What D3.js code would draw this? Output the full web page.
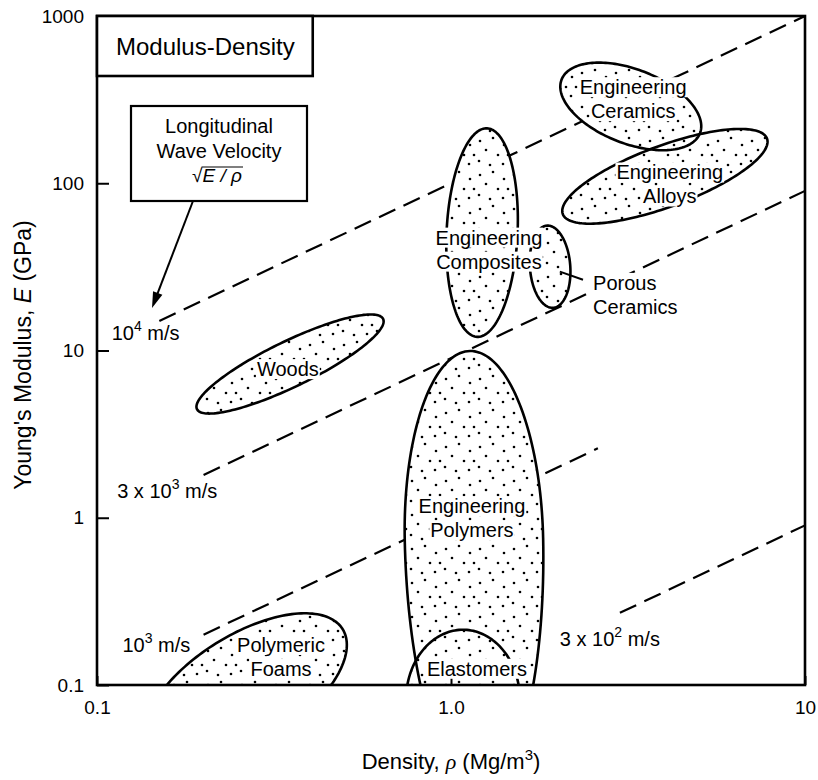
<!DOCTYPE html>
<html><head><meta charset="utf-8">
<script src="https://cdn.jsdelivr.net/npm/d3@7"></script>
<style>
body{margin:0;background:#fff}
text{font-family:"Liberation Sans",Arial,Helvetica,sans-serif;fill:#000}
</style>
</head><body>
<svg id="chart" width="818" height="780"></svg>
<script>
// ---------------- data ----------------
const xTickValues = [0.1, 1, 10];
const xTickLabels = ["0.1", "1.0", "10"];
const yTickValues = [0.1, 1, 10, 100, 1000];
const yTickLabels = ["0.1", "1", "10", "100", "1000"];

// guide lines of constant longitudinal wave velocity  v = sqrt(E/rho)
const velocities = [10000, 3000, 1000, 300];          // m/s
const velocityRhoStart = [0.15, 0.2, 0.2, 3.0];       // Mg/m^3
const velocityRhoEnd = [10, 10, 2.6, 10];
const velocityMantissa = ["", "3 x ", "", "3 x "];
const velocityExponent = ["4", "3", "3", "2"];
const velocityLabelRho = [0.110, 0.114, 0.118, 2.03];
const velocityLabelE = [11.6, 1.32, 0.158, 0.171];

// material property envelopes (ellipses in log-log space)
const regionNames = ["Woods", "Engineering Ceramics", "Engineering Alloys", "Engineering Composites",
  "Porous Ceramics", "Engineering Polymers", "Elastomers", "Polymeric Foams"];
const regionCenterRho = [0.351, 3.22, 4.02, 1.224, 1.905, 1.161, 1.081, 0.262];
const regionCenterE   = [8.30, 288, 110, 50.7, 31.7, 0.741, 0.0813, 0.0933];
const regionTipRho    = [0.643, 5.05, 7.81, 1.264, 1.867, 1.131, 1.081, 0.494];
const regionTipE      = [15.45, 199, 185, 213, 55.8, 9.93, 0.214, 0.216];
const regionWidthRatio = [0.22, 0.50, 0.28, 0.34, 0.49, 0.367, 0.81, 0.478];
const regionTailRatio  = [1, 1, 1, 1, 1, 1.33, 1, 1];

const labelLines = [["Woods"], ["Engineering", "Ceramics"], ["Engineering", "Alloys"],
  ["Engineering", "Composites"], ["Porous", "Ceramics"], ["Engineering", "Polymers"],
  ["Elastomers"], ["Polymeric", "Foams"]];
const labelRho = [0.346, 3.27, 4.15, 1.28, 2.52, 1.146, 1.184, 0.331];
const labelE   = [7.74, 318, 98.3, 40.1, 21.5, 0.99, 0.125, 0.147];
const labelAnchor = ["middle", "middle", "middle", "middle", "start", "middle", "middle", "middle"];
const porousLeaderRho = [2.03, 2.36];
const porousLeaderE = [29.6, 26.5];

// ---------------- layout ----------------
const svg = d3.select("#chart");
const L = 97, R = 805, T = 16, B = 685;
const x = d3.scaleLog().domain([0.1, 10]).range([L, R]);
const y = d3.scaleLog().domain([0.1, 1000]).range([B, T]);
const FS = 20;
const SANS = '"Liberation Sans",Arial,Helvetica,sans-serif';

const defs = svg.append("defs");
defs.append("clipPath").attr("id", "plotclip").append("rect")
  .attr("x", L).attr("y", T).attr("width", R - L).attr("height", B - T);
const pat = defs.append("pattern").attr("id", "stipple").attr("patternUnits", "userSpaceOnUse")
  .attr("width", 34).attr("height", 34);
[[4,5],[17,2],[28,9],[10,14],[22,19],[3,25],[14,29],[27,28],[32,19]].forEach(p => {
  pat.append("circle").attr("cx", p[0]).attr("cy", p[1]).attr("r", 1.3).attr("fill", "#000");
});

const plot = svg.append("g").attr("clip-path", "url(#plotclip)");

// guide lines
const gl = d3.line().x(d => x(d[0])).y(d => y(d[1]));
velocities.forEach((v, i) => {
  const k = (v / 1000) * (v / 1000);
  plot.append("path")
    .attr("d", gl([[velocityRhoStart[i], velocityRhoStart[i] * k], [velocityRhoEnd[i], velocityRhoEnd[i] * k]]))
    .attr("fill", "none").attr("stroke", "#000").attr("stroke-width", 2.2)
    .attr("stroke-dasharray", "18,9");
});

// region shapes
function regionPath(i) {
  const cx = x(regionCenterRho[i]), cy = y(regionCenterE[i]);
  const tx = x(regionTipRho[i]), ty = y(regionTipE[i]);
  const a = Math.hypot(tx - cx, ty - cy), ang = Math.atan2(ty - cy, tx - cx);
  const b = a * regionWidthRatio[i], tail = regionTailRatio[i];
  const pts = d3.range(0, 180).map(j => {
    const t = j / 180 * 2 * Math.PI;
    const lx = a * Math.cos(t) * (Math.cos(t) < 0 ? tail : 1), ly = b * Math.sin(t);
    return [cx + lx * Math.cos(ang) - ly * Math.sin(ang), cy + lx * Math.sin(ang) + ly * Math.cos(ang)];
  });
  return d3.line().curve(d3.curveLinearClosed)(pts);
}
regionNames.forEach((n, i) => {
  plot.append("path").attr("d", regionPath(i)).attr("fill", "#fff");
  plot.append("path").attr("d", regionPath(i)).attr("fill", "url(#stipple)");
});
regionNames.forEach((n, i) => {
  plot.append("path").attr("d", regionPath(i)).attr("fill", "none")
    .attr("stroke", "#000").attr("stroke-width", 2.6);
});

// axes
const xAxis = d3.axisBottom(x).tickValues(xTickValues).tickFormat((d, i) => xTickLabels[i])
  .tickSizeInner(-9).tickSizeOuter(0).tickPadding(16);
const yAxis = d3.axisLeft(y).tickValues(yTickValues).tickFormat((d, i) => yTickLabels[i])
  .tickSizeInner(-12).tickSizeOuter(0).tickPadding(13);
const gx = svg.append("g").attr("transform", `translate(0,${B})`).call(xAxis);
const gy = svg.append("g").attr("transform", `translate(${L},0)`).call(yAxis);
[gx, gy].forEach(g => {
  g.select(".domain").remove();
  g.selectAll("line").attr("stroke", "#000").attr("stroke-width", 2);
  g.selectAll("text").attr("font-size", 19).attr("font-family", SANS).attr("fill", "#000");
});

svg.append("rect").attr("x", L).attr("y", T).attr("width", R - L).attr("height", B - T)
  .attr("fill", "none").attr("stroke", "#000").attr("stroke-width", 2.6);

// helper: white background behind text (inserted into the same group, just before the text)
function backed(g, t, pad) {
  const bb = t.node().getBBox();
  g.insert("rect", () => t.node())
    .attr("x", bb.x - pad).attr("y", bb.y - pad + 2)
    .attr("width", bb.width + 2 * pad).attr("height", bb.height + 2 * pad - 4)
    .attr("fill", "#fff");
}

// region labels
const lineH = 24;
labelLines.forEach((lines, i) => {
  const g = svg.append("g");
  const cx = x(labelRho[i]), cy = y(labelE[i]);
  lines.forEach((s, j) => {
    const t = g.append("text").attr("x", cx).attr("y", cy + (j - (lines.length - 1) / 2) * lineH)
      .attr("dy", "0.35em").attr("text-anchor", labelAnchor[i]).attr("font-size", FS).text(s);
    backed(g, t, 1);
  });
});
svg.append("line").attr("x1", x(porousLeaderRho[0])).attr("y1", y(porousLeaderE[0]))
  .attr("x2", x(porousLeaderRho[1])).attr("y2", y(porousLeaderE[1]))
  .attr("stroke", "#000").attr("stroke-width", 2);

// velocity labels
velocities.forEach((v, i) => {
  const t = svg.append("text").attr("x", x(velocityLabelRho[i])).attr("y", y(velocityLabelE[i]))
    .attr("font-size", FS);
  t.append("tspan").text(velocityMantissa[i] + "10");
  t.append("tspan").attr("dy", -9).attr("font-size", 14).text(velocityExponent[i]);
  t.append("tspan").attr("dy", 9).text(" m/s");
});

// title box
const tg = svg.append("g");
const tbox = tg.append("rect");
const title = tg.append("text").attr("x", 116).attr("y", 55).attr("font-size", 24).text("Modulus-Density");
const tw = title.node().getComputedTextLength();
tbox.attr("x", L).attr("y", T).attr("width", 116 - L + tw + 18).attr("height", 76 - T)
  .attr("fill", "#fff").attr("stroke", "#000").attr("stroke-width", 2.6);

// Longitudinal wave velocity box
const bx = 131, by = 106, bh = 95, bcx = 219;
const lg = svg.append("g");
const lbox = lg.append("rect");
const t1 = lg.append("text").attr("x", bcx).attr("y", 133).attr("text-anchor", "middle").attr("font-size", FS).text("Longitudinal");
const t2 = lg.append("text").attr("x", bcx).attr("y", 158).attr("text-anchor", "middle").attr("font-size", FS).text("Wave Velocity");
lbox.attr("x", bx).attr("y", by).attr("width", 2 * (bcx - bx)).attr("height", bh)
  .attr("fill", "#fff").attr("stroke", "#000").attr("stroke-width", 2.2);
const t3 = lg.append("text").attr("x", bcx - 2).attr("y", 182).attr("text-anchor", "middle")
  .attr("font-size", 19).attr("font-family", '"Liberation Serif","Times New Roman",serif');
t3.append("tspan").text("\u221A");
const t3b = t3.append("tspan").attr("font-style", "italic").text("E / \u03C1");
const sb = t3b.node().getBBox();
lg.append("line").attr("x1", sb.x - 1).attr("x2", sb.x + sb.width + 1)
  .attr("y1", sb.y + 2).attr("y2", sb.y + 2).attr("stroke", "#000").attr("stroke-width", 1.2);

// arrow
const ax1 = 193, ay1 = by + bh, ax2 = 152, ay2 = 308;
const aang = Math.atan2(ay2 - ay1, ax2 - ax1);
svg.append("line").attr("x1", ax1).attr("y1", ay1).attr("x2", ax2 - 10 * Math.cos(aang)).attr("y2", ay2 - 10 * Math.sin(aang))
  .attr("stroke", "#000").attr("stroke-width", 2);
const ah = 16, aw = 5;
svg.append("path").attr("d", `M${ax2},${ay2} L${ax2 - ah * Math.cos(aang) + aw * Math.sin(aang)},${ay2 - ah * Math.sin(aang) - aw * Math.cos(aang)} L${ax2 - ah * Math.cos(aang) - aw * Math.sin(aang)},${ay2 - ah * Math.sin(aang) + aw * Math.cos(aang)} Z`)
  .attr("fill", "#000");

// axis titles
const xt = svg.append("text").attr("x", (L + R) / 2).attr("y", 769).attr("text-anchor", "middle").attr("font-size", 22);
xt.append("tspan").text("Density, ");
xt.append("tspan").attr("font-style", "italic").attr("font-family", '"Liberation Serif",serif').text("\u03C1");
xt.append("tspan").text(" (Mg/m");
xt.append("tspan").attr("dy", -9).attr("font-size", 15).text("3");
xt.append("tspan").attr("dy", 9).text(")");

const yt = svg.append("text").attr("transform", `translate(31,355) rotate(-90)`)
  .attr("text-anchor", "middle").attr("font-size", 23);
yt.append("tspan").text("Young's Modulus, ");
yt.append("tspan").attr("font-style", "italic").text("E");
yt.append("tspan").text(" (GPa)");
</script>
</body></html>
